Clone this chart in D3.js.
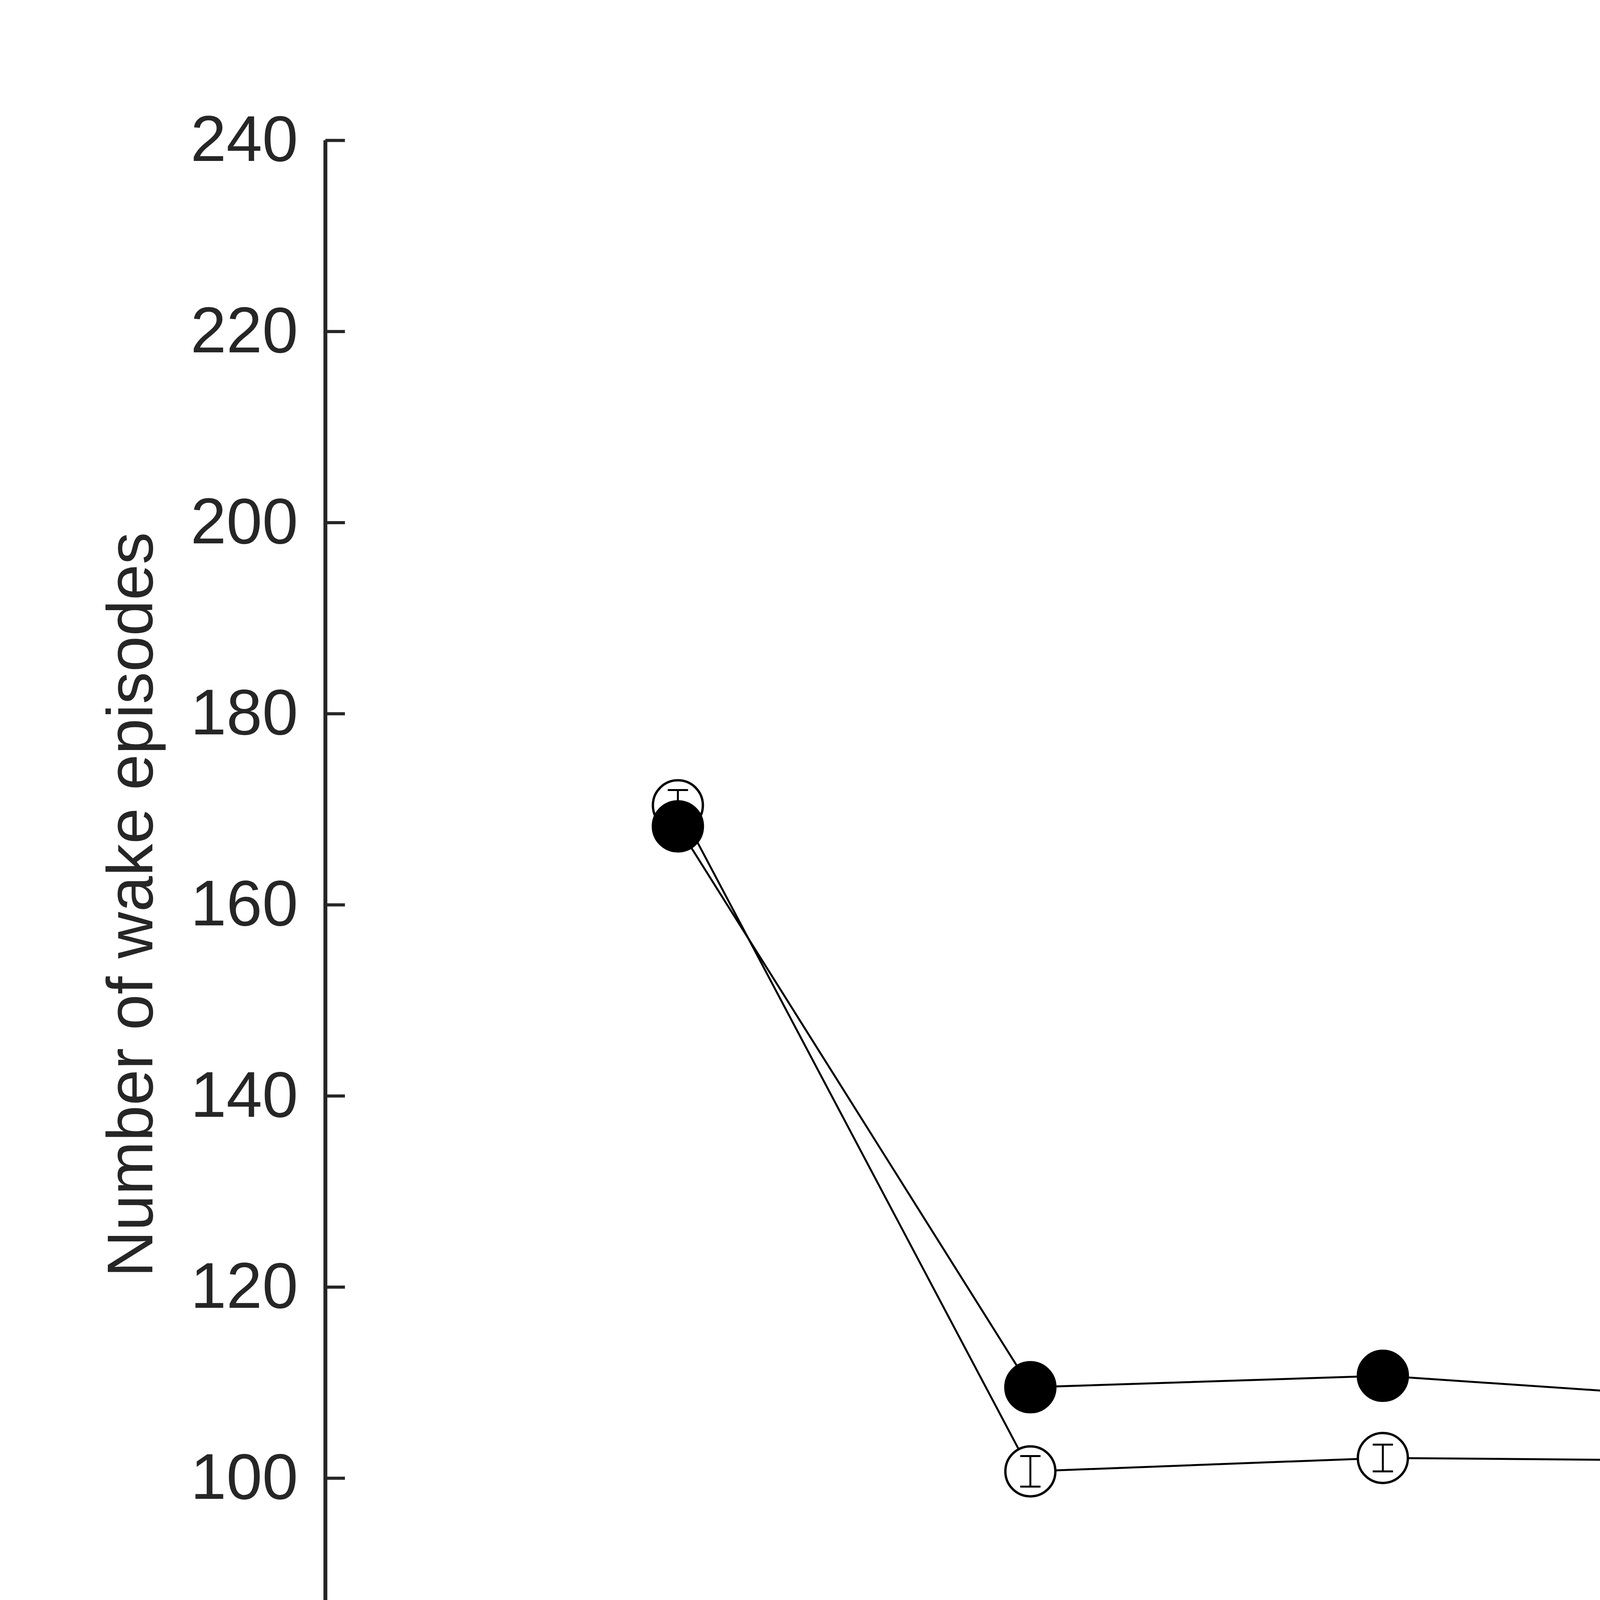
<!DOCTYPE html>
<html>
<head>
<meta charset="utf-8">
<script src="https://cdn.jsdelivr.net/npm/d3@7"></script>
<style>
  body { margin: 0; background: #fff; }
  text { font-family: "Liberation Sans", Arial, sans-serif; fill: #262626; }
</style>
</head>
<body>
<svg id="chart" width="6400" height="4800"></svg>
<script>
var categories = ['B', 'W1', 'W2', 'W3', 'W4'];
var rwValues = [168.2, 109.5, 110.7, 108.2, 108.1];
var rwErrors = [1.5, 1.3, 1.3, 1.2, 1.2];
var awValues = [170.4, 100.7, 102.1, 101.8, 101.7];
var awErrors = [1.6, 1.6, 1.4, 1.6, 1.2];
var yTicks = [80, 100, 120, 140, 160, 180, 200, 220, 240];

(function(){
var svg = d3.select('#chart');
var pLeft = 833, pRight = 5796, pTop = 359, pBottom = 4273;

var x = d3.scaleLinear().domain([0, 5.5]).range([pLeft, pRight]);
var y = d3.scaleLinear().domain([80, 240]).range([pBottom, pTop]);

// axes
var yAxis = svg.append('g').attr('transform', 'translate(' + pLeft + ',0)')
  .call(d3.axisLeft(y).tickValues(yTicks).tickSize(-50).tickPadding(70));
var xAxis = svg.append('g').attr('transform', 'translate(0,' + pBottom + ')')
  .call(d3.axisBottom(x).tickValues([1, 2, 3, 4, 5])
    .tickFormat(function(d){ return categories[d - 1]; })
    .tickSize(-50).tickPadding(110));
[yAxis, xAxis].forEach(function(a){
  a.select('.domain').attr('stroke', '#262626').attr('stroke-width', 10);
  a.selectAll('.tick line').attr('stroke', '#262626').attr('stroke-width', 8);
  a.selectAll('.tick text').style('font-size', '165px').attr('fill', '#262626');
});
yAxis.select('.domain').attr('d', 'M0,' + pTop + 'V' + pBottom);
xAxis.select('.domain').attr('d', 'M' + pLeft + ',0H' + pRight);

svg.append('text')
  .attr('transform', 'translate(390,' + ((pTop + pBottom) / 2) + ') rotate(-90)')
  .attr('text-anchor', 'middle')
  .style('font-size', '165px')
  .text('Number of wake episodes');

var line = d3.line().x(function(d, i){ return x(i + 1); }).y(function(d){ return y(d); });

function drawSeries(values, errors, fill) {
  var g = svg.append('g');
  g.append('path').attr('d', line(values))
    .attr('fill', 'none').attr('stroke', '#000').attr('stroke-width', 5);
  g.selectAll('circle').data(values).enter().append('circle')
    .attr('cx', function(d, i){ return x(i + 1); })
    .attr('cy', function(d){ return y(d); })
    .attr('r', 64)
    .attr('fill', fill).attr('stroke', '#000').attr('stroke-width', 6);
  var eb = g.selectAll('g.err').data(values).enter().append('g')
    .attr('stroke', '#000').attr('stroke-width', 5);
  eb.append('line')
    .attr('x1', function(d, i){ return x(i + 1); })
    .attr('x2', function(d, i){ return x(i + 1); })
    .attr('y1', function(d, i){ return y(d - errors[i]); })
    .attr('y2', function(d, i){ return y(d + errors[i]); });
  [-1, 1].forEach(function(s){
    eb.append('line')
      .attr('x1', function(d, i){ return x(i + 1) - 26; })
      .attr('x2', function(d, i){ return x(i + 1) + 26; })
      .attr('y1', function(d, i){ return y(d + s * errors[i]); })
      .attr('y2', function(d, i){ return y(d + s * errors[i]); });
  });
}
drawSeries(awValues, awErrors, '#fff');
drawSeries(rwValues, rwErrors, '#000');

// legend
var legend = [{name: 'RW', fill: '#000'}, {name: 'AW', fill: '#fff'}];
var lg = svg.selectAll('g.legend').data(legend).enter().append('g')
  .attr('transform', function(d, i){ return 'translate(5183,' + (600 + i * 217) + ')'; });
lg.append('circle').attr('r', 64).attr('fill', function(d){ return d.fill; })
  .attr('stroke', '#000').attr('stroke-width', 6);
lg.append('text').attr('x', 200).attr('dy', '0.36em')
  .style('font-size', '145px').text(function(d){ return d.name; });
})();
</script>
</body>
</html>
